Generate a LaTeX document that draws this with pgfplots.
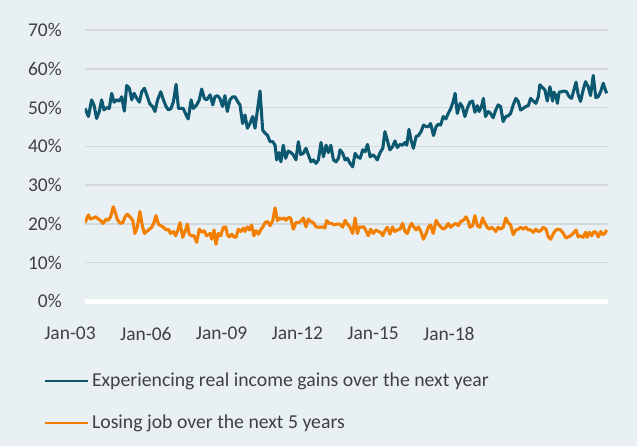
\documentclass[border=0pt]{standalone}
\usepackage{pgfplots}
\usepackage{pgfplotstable}
\pgfplotsset{compat=1.18}
\usepackage{fontspec}
\setmainfont{Carlito}
\definecolor{bg}{HTML}{E8F0F3}
\definecolor{gridc}{HTML}{D4D8DA}
\definecolor{blueline}{HTML}{0C5870}
\definecolor{orangeline}{HTML}{F27F00}
\definecolor{txt}{HTML}{404040}

\pgfplotstableread{
m v
0 49.8
1.3 47.7
2.5 52.0
3.4 50.7
4.4 47.2
5.4 49.0
6.3 52.0
7.2 49.4
8.2 50.0
9.2 49.8
10.1 53.7
11.0 51.4
12.0 52.0
13.0 51.7
13.9 52.8
14.9 49.1
15.8 55.7
16.8 55.0
17.7 52.0
18.6 53.7
19.6 52.4
20.6 51.4
21.5 54.1
22.5 55.0
23.4 53.3
24.6 50.9
25.6 50.3
26.5 49.0
27.5 52.0
28.7 54.1
29.7 52.0
30.7 50.3
31.6 49.4
32.6 49.8
33.5 51.6
34.5 56.0
35.4 49.8
36.2 49.8
37.2 49.8
38.3 48.1
39.1 47.1
40.2 52.0
41.0 49.8
42.3 50.7
43.3 52.0
44.2 54.8
45.2 52.4
46.1 52.0
47.4 53.3
48.4 50.7
49.2 52.8
50.1 53.1
51.1 52.4
52.1 50.3
53.0 53.1
53.9 49.0
54.9 52.0
55.9 52.8
56.8 52.8
57.7 51.7
58.7 50.7
59.7 45.9
60.6 48.1
61.5 44.7
62.5 45.9
63.5 47.7
64.4 44.7
66.3 54.3
67.3 44.2
68.2 43.4
69.1 42.9
70.1 41.2
71.1 41.2
72.0 40.3
72.6 36.5
73.5 38.4
74.2 36.0
75.1 40.3
76.0 36.9
77.0 38.8
78.0 38.4
78.9 37.8
79.9 36.5
80.8 41.2
81.7 37.9
82.7 38.2
83.7 39.5
84.6 37.8
85.6 36.0
86.5 36.5
87.5 35.6
88.4 36.5
89.4 41.0
90.3 37.3
91.3 40.3
92.2 38.4
93.1 40.3
94.1 36.5
95.1 36.0
96.0 36.9
96.6 39.1
97.6 38.2
98.5 36.5
99.4 36.9
100.4 35.6
101.4 34.7
102.3 38.2
103.2 37.3
104.2 36.9
105.2 39.1
106.1 38.6
107.0 40.5
108.0 37.3
109.0 37.8
109.9 37.3
110.7 36.5
111.8 38.4
112.8 39.5
113.6 43.8
114.5 41.6
115.5 39.1
116.5 39.9
117.4 41.4
118.3 39.7
119.3 40.5
120.3 40.3
121.2 41.0
121.9 40.3
122.7 44.4
123.5 41.6
124.4 39.5
125.4 42.5
126.3 42.8
127.3 43.8
128.2 45.5
129.2 45.1
130.1 45.1
130.9 45.9
132.0 42.8
133.0 45.1
133.8 45.7
134.7 45.5
135.7 47.7
136.7 47.1
137.6 48.5
138.5 49.7
139.5 51.6
140.2 53.7
141.0 48.5
142.1 51.1
142.9 50.3
143.9 47.7
144.8 49.8
145.8 51.4
146.8 51.7
147.7 48.8
148.6 50.5
149.3 49.0
150.2 50.3
150.9 52.4
151.7 47.7
152.7 49.0
153.6 48.5
154.6 47.4
155.6 49.4
156.5 50.7
157.4 50.3
158.4 46.4
159.4 47.7
160.3 47.9
161.2 48.5
162.2 50.7
163.2 52.4
164.1 51.6
165.0 49.4
166.0 49.8
167.0 50.3
167.9 50.5
168.8 52.4
169.8 51.7
170.8 51.1
171.7 52.8
172.3 55.9
173.3 55.2
174.2 54.6
175.1 51.7
176.1 55.4
177.1 51.7
177.6 54.0
178.4 53.1
178.9 51.1
179.6 54.0
180.5 54.1
181.4 54.3
182.4 54.1
183.4 52.8
184.3 52.4
185.2 54.6
186.0 56.6
186.8 53.4
187.7 51.6
188.7 54.6
189.6 56.7
190.6 55.4
191.5 53.1
192.5 58.3
193.5 52.6
194.4 52.8
195.3 54.1
196.3 56.3
196.9 55.0
197.6 53.7
}\income

\pgfplotstableread{
m v
0 20.3
1.3 22.3
2.1 21.2
3.2 21.5
4.2 21.8
5.1 21.2
5.9 20.8
6.9 20.1
8.0 21.2
8.8 20.9
9.7 21.8
10.7 24.4
11.5 22.9
12.2 21.2
13.3 20.1
14.3 20.3
15.2 21.8
16.0 22.5
17.0 21.8
18.1 20.9
18.9 17.5
19.8 19.1
20.8 23.2
21.7 19.5
22.5 17.5
23.4 18.0
24.4 18.6
25.3 19.1
26.1 20.3
26.9 22.1
27.8 19.9
28.7 19.5
29.7 19.1
30.7 18.4
31.6 18.6
32.4 17.5
33.5 18.0
34.3 16.9
35.1 18.2
36.0 20.3
37.0 16.5
37.9 18.0
38.8 19.9
39.5 17.3
40.4 16.9
41.3 16.9
42.3 15.2
43.3 18.6
44.2 17.8
45.1 18.2
46.1 16.9
47.4 17.5
48.0 16.0
48.9 18.4
49.6 14.7
50.5 17.5
51.4 16.9
52.4 19.1
53.3 19.2
53.9 17.2
54.7 16.6
55.6 17.3
56.4 16.6
57.2 16.5
58.1 18.6
59.0 18.0
60.0 18.9
60.6 18.0
61.5 19.2
62.3 18.4
63.1 19.7
64.0 16.9
64.8 18.2
65.7 17.3
66.5 18.4
67.3 19.1
68.2 20.3
69.1 20.6
70.1 19.5
71.1 20.8
72.0 24.1
72.9 20.8
73.6 21.5
74.5 21.2
75.4 21.5
76.1 20.9
77.0 21.6
77.9 21.5
78.9 18.6
79.9 20.3
80.8 20.3
81.7 20.6
82.7 21.5
83.7 19.2
84.6 21.2
85.5 20.6
86.5 20.3
87.5 19.2
88.4 19.1
89.3 19.1
90.3 19.2
90.9 18.9
91.5 20.8
92.6 20.1
93.4 20.1
94.3 19.7
95.3 19.9
96.6 19.9
97.6 19.1
98.5 20.9
99.4 19.9
100.4 19.1
101.4 17.5
102.3 21.5
103.2 17.5
103.9 19.2
104.8 19.1
105.7 19.2
106.4 18.2
107.3 16.9
108.2 18.6
109.2 17.5
110.2 18.4
111.1 18.0
112.0 17.8
112.8 16.9
113.6 18.2
114.5 19.1
115.5 17.3
116.5 19.2
117.4 18.0
118.3 18.4
119.3 18.6
120.3 20.1
121.2 18.0
122.1 17.5
122.9 19.1
123.7 20.1
124.6 19.1
125.4 18.4
126.3 19.2
127.2 18.0
128.2 16.0
129.2 17.5
130.1 19.2
130.9 19.7
131.9 17.5
133.0 20.9
133.8 19.9
134.7 19.2
135.7 18.6
136.7 19.1
137.6 20.1
138.5 19.1
139.5 19.7
140.5 20.1
141.4 19.5
142.3 20.6
143.3 20.9
144.3 21.8
145.2 20.6
145.8 19.1
146.8 19.5
147.7 22.1
148.6 19.5
149.6 19.1
150.6 21.5
151.5 20.1
152.4 19.1
153.1 18.6
154.0 19.1
154.9 18.6
155.6 18.0
156.5 19.1
157.4 18.6
158.4 19.1
159.4 21.5
160.3 20.3
161.2 19.7
162.2 17.2
163.2 18.4
164.1 18.6
165.0 19.1
166.0 18.6
167.0 19.1
167.9 18.4
168.8 18.4
169.8 17.8
170.8 18.6
171.7 18.0
172.6 18.2
173.6 19.1
174.6 18.6
175.5 16.6
176.4 16.0
177.4 17.5
178.4 18.4
179.3 18.6
180.1 18.4
181.2 17.5
182.2 16.3
183.0 16.6
183.9 16.9
184.9 17.5
186.0 18.4
186.8 16.6
187.7 16.9
188.7 16.5
189.6 17.8
190.2 16.5
191.0 17.8
191.9 16.9
192.8 18.0
193.5 17.8
194.4 16.6
195.3 18.0
196.1 17.2
196.9 17.5
197.6 18.4
}\job

\begin{document}
\fontsize{14.5}{17}\selectfont
\begin{tikzpicture}
\fill[bg] (0pt,0pt) rectangle (477.75pt,334.5pt);
\useasboundingbox (0pt,0pt) rectangle (477.75pt,334.5pt);
\begin{axis}[
  at={(63.75pt,108.6pt)}, anchor=south west,
  scale only axis, width=392.25pt, height=203.25pt,
  xmin=0, xmax=198.1, ymin=0, ymax=70,
  axis y line*=left,
  axis x line*=bottom,
  y axis line style={draw=none},
  x axis line style={draw=white, line width=4pt, -},
  ytick={0,10,20,30,40,50,60,70},
  ymajorgrids, grid style={gridc, line width=1.1pt},
  major tick length=0pt,
  tick style={draw=none},
  xtick={0,28.7,57.4,86.1,114.8,143.5},
  xticklabels={Jan-03,Jan-06,Jan-09,Jan-12,Jan-15,Jan-18},
  yticklabel={\pgfmathprintnumber{\tick}\%},
  /pgf/number format/assume math mode=true,
  ticklabel style={font=\fontsize{14.6}{17}\selectfont, text=txt},
  xticklabel style={xshift=-11.25pt, yshift=-14.5pt},
  yticklabel style={xshift=-12.4pt},
  legend style={at={(axis description cs:-0.0784,-0.3717)}, anchor=west,
    draw=none, fill=none, inner sep=0pt, row sep=15pt,
    font=\fontsize{14.8}{17}\selectfont, text=txt,
    nodes={inner sep=2pt}},
  legend cell align=left,
  legend image code/.code={\draw[#1, line width=1.6pt] (0pt,0pt) -- (32.25pt,0pt);},
]
\addplot[blueline, line width=2.3pt, line join=round] table[x=m, y=v] {\income};
\addlegendentry{Experiencing real income gains over the next year}
\addplot[orangeline, line width=2.3pt, line join=round] table[x=m, y=v] {\job};
\addlegendentry{Losing job over the next 5 years}
\end{axis}
\end{tikzpicture}
\end{document}
